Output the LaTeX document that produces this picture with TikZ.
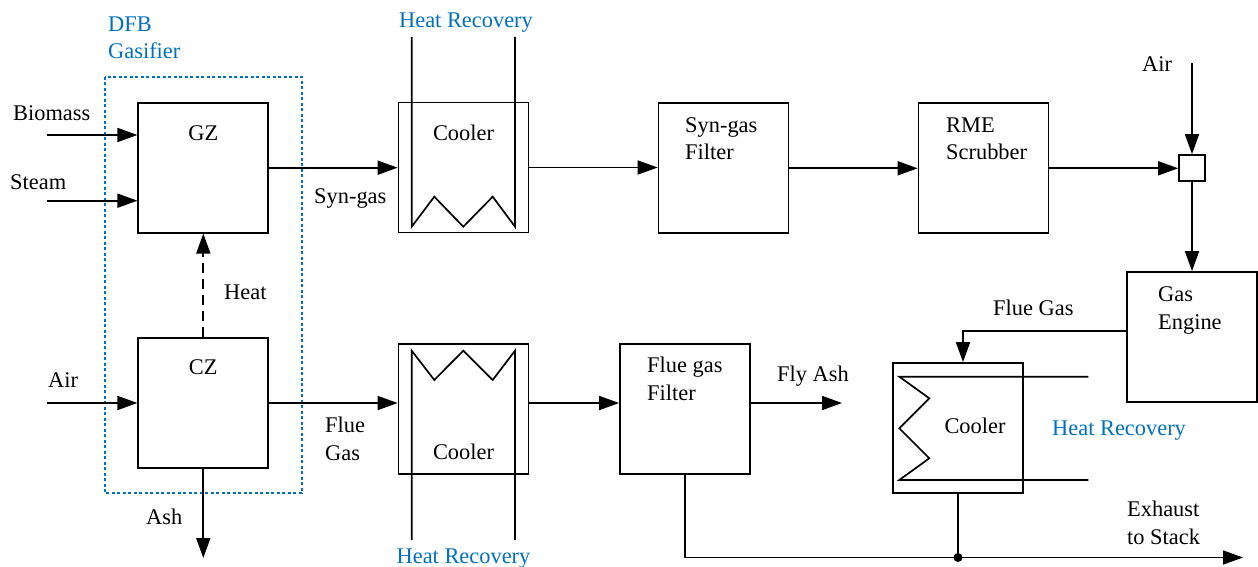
\documentclass[tikz,border=0pt]{standalone}
\usepackage{fontspec}
\setmainfont{Liberation Serif}
\usetikzlibrary{arrows.meta}
\definecolor{hrblue}{RGB}{0,112,192}
\tikzset{
  box/.style={draw, line width=1.7pt, minimum width=130pt, minimum height=130pt, inner sep=0pt},
  mixbox/.style={draw, line width=1.7pt, minimum width=26pt, minimum height=26pt, inner sep=0pt},
  flow/.style={line width=1.7pt, -{Triangle[length=20pt,width=14pt]}},
  pipe/.style={line width=1.7pt},
  lbl/.style={inner sep=0pt, font=\fontsize{22.4}{27.5}\selectfont, align=left},
  bluelbl/.style={lbl, text=hrblue},
}
\begin{document}
\begin{tikzpicture}[x=1pt,y=-1pt]
\useasboundingbox (0,0) rectangle (1258,567);
% DFB gasifier frame
\draw[hrblue, line width=2.2pt, dash pattern=on 3pt off 2.5pt] (105,76.7) rectangle (301.7,493.3);
\node[bluelbl, anchor=base west] (dfb) at (108,59) {DFB\\Gasifier};

% boxes
\node[box] (gz) at (203.3,167.7) {};
\node[box] (cz) at (203.3,403) {};
\node[box] (c1) at (463.5,167.5) {};
\node[box] (c2) at (463.5,409) {};
\node[box] (sf) at (723.5,168.3) {};
\node[box] (rme) at (983.5,168.3) {};
\node[mixbox] (mix) at (1192,168) {};
\node[box] (ge) at (1192,337) {};
\node[box] (fgf) at (685,409) {};
\node[box] (c3) at (958,428) {};

% box texts
\node[lbl, anchor=base] (gzt) at (203.3,140) {GZ};
\node[lbl, anchor=base] (czt) at (203.3,374) {CZ};
\node[lbl, anchor=base] (c1t) at (463.5,140) {Cooler};
\node[lbl, anchor=base] (c2t) at (463.5,459) {Cooler};
\node[lbl, anchor=base] (c3t) at (975,433) {Cooler};
\node[lbl, anchor=base west] (sft) at (685,160) {Syn-gas\\Filter};
\node[lbl, anchor=base west] (rmet) at (946,160) {RME\\Scrubber};
\node[lbl, anchor=base west] (get) at (1158,329) {Gas\\Engine};
\node[lbl, anchor=base west] (fgft) at (647,400) {Flue gas\\Filter};

% heat exchanger coils
\draw[pipe] (411.7,37) -- (411.7,226.7) -- (434.3,196.7) -- (463.3,226.7) -- (492.7,196.7) -- (515,226.7) -- (515,37);
\draw[pipe] (411.7,540) -- (411.7,350.7) -- (434.3,380) -- (463.3,350.7) -- (492.7,380) -- (515,350.7) -- (515,540);
\draw[pipe] (1088.3,376.7) -- (899.3,376.7) -- (929.3,398.3) -- (899.3,428.3) -- (929.3,458.3) -- (899.3,480) -- (1088.3,480);
\node[bluelbl, anchor=base] (hr1) at (466,28) {Heat Recovery};
\node[bluelbl, anchor=base] (hr2) at (463.5,563) {Heat Recovery};
\node[bluelbl, anchor=base west] (hr3) at (1052,435) {Heat Recovery};

% inputs to gasifier
\coordinate (bio) at (46.7,135);
\coordinate (stm) at (46.7,200.7);
\coordinate (airl) at (46.7,403);
\coordinate (ash) at (203.3,558);
\draw[flow] (bio) -- (bio -| gz.west);
\draw[flow] (stm) -- (stm -| gz.west);
\draw[flow] (airl) -- (airl -| cz.west);
\draw[flow] (cz.south) -- (ash);
\draw[flow, dash pattern=on 10pt off 6pt] (cz.north) -- (gz.south);
\node[lbl, anchor=base west] (biot) at (13,121) {Biomass};
\node[lbl, anchor=base west] (stmt) at (10,189) {Steam};
\node[lbl, anchor=base west] (airlt) at (48,387) {Air};
\node[lbl, anchor=base west] (heatt) at (224,299) {Heat};
\node[lbl, anchor=base west] (asht) at (146,524) {Ash};

% syn-gas line
\draw[flow] (gz.east) -- (gz.east -| c1.west);
\node[lbl, anchor=base west] (sgt) at (314,203) {Syn-gas};
\draw[flow] (c1.east) -- (c1.east -| sf.west);
\draw[flow] (sf.east) -- (sf.east -| rme.west);
\draw[flow] (rme.east) -- (rme.east -| mix.west);
\coordinate (airtop) at (1192,63);
\draw[flow] (airtop) -- (mix.north);
\node[lbl, anchor=base west] (airrt) at (1142,72) {Air};
\draw[flow] (mix.south) -- (ge.north);

% engine flue gas
\coordinate (fgturn) at (963,331);
\draw[flow] (ge.west |- fgturn) -- (fgturn) -- (fgturn |- c3.north);
\node[lbl, anchor=base west] (fgt) at (993,315) {Flue Gas};

% flue gas line
\draw[flow] (cz.east) -- (cz.east -| c2.west);
\node[lbl, anchor=base west] (fglt) at (325,460) {Flue\\Gas};
\draw[flow] (c2.east |- cz.east) -- (fgf.west |- cz.east);
\coordinate (flyash) at (842,403);
\draw[flow] (fgf.east |- flyash) -- (flyash);
\node[lbl, anchor=base west] (fat) at (777,381) {Fly Ash};

% exhaust
\coordinate (exh) at (1243,557.5);
\draw[flow] (fgf.south) -- (fgf.south |- exh) -- (exh);
\coordinate (junc) at (c3.south |- exh);
\draw[pipe] (c3.south) -- (junc);
\fill (junc) circle (4.5pt);
\node[lbl, anchor=base west] (exht) at (1127,544) {Exhaust\\to Stack};
\end{tikzpicture}
\end{document}
